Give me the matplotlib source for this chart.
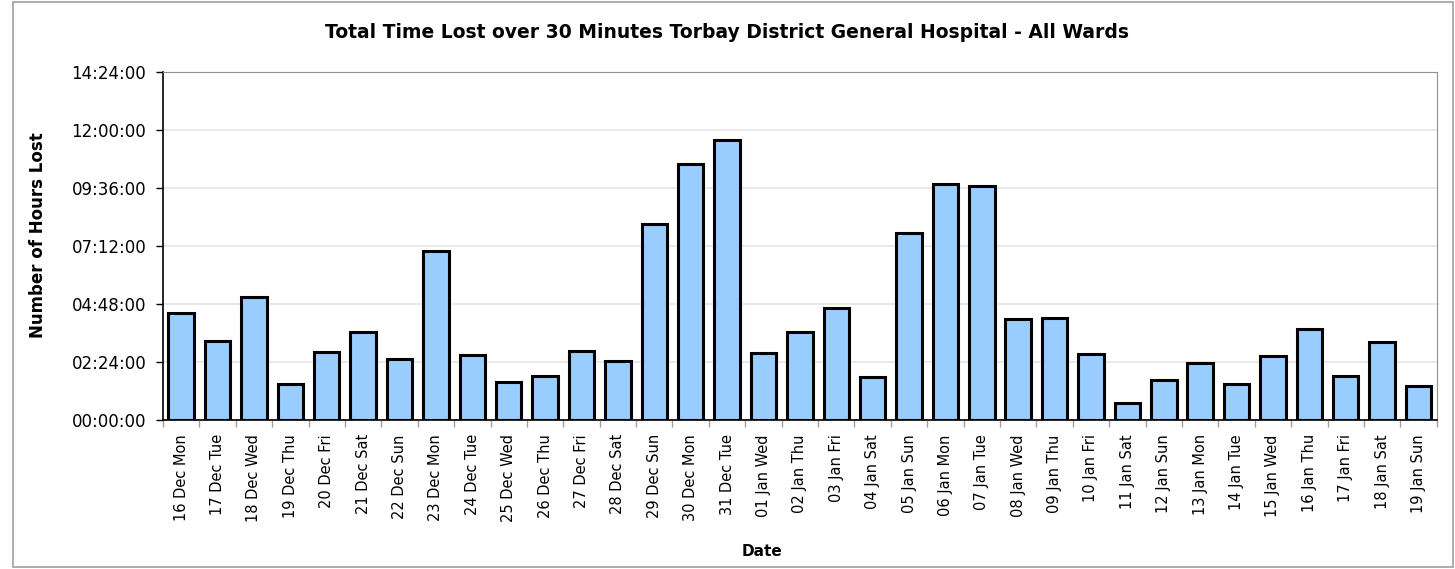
import matplotlib.pyplot as plt
from matplotlib.ticker import FuncFormatter, MultipleLocator
from matplotlib.patches import Rectangle
import numpy as np

dates = ['16 Dec Mon', '17 Dec Tue', '18 Dec Wed', '19 Dec Thu', '20 Dec Fri',
         '21 Dec Sat', '22 Dec Sun', '23 Dec Mon', '24 Dec Tue', '25 Dec Wed',
         '26 Dec Thu', '27 Dec Fri', '28 Dec Sat', '29 Dec Sun', '30 Dec Mon',
         '31 Dec Tue', '01 Jan Wed', '02 Jan Thu', '03 Jan Fri', '04 Jan Sat',
         '05 Jan Sun', '06 Jan Mon', '07 Jan Tue', '08 Jan Wed', '09 Jan Thu',
         '10 Jan Fri', '11 Jan Sat', '12 Jan Sun', '13 Jan Mon', '14 Jan Tue',
         '15 Jan Wed', '16 Jan Thu', '17 Jan Fri', '18 Jan Sat', '19 Jan Sun']

# time lost, in minutes
minutes_lost = [265, 197, 305, 90, 169, 220, 151, 419, 163, 95,
                110, 172, 148, 486, 636, 694, 166, 220, 278, 107,
                463, 586, 581, 251, 253, 164, 43, 100, 143, 90,
                159, 227, 111, 193, 84]

title = 'Total Time Lost over 30 Minutes Torbay District General Hospital - All Wards'


def hhmmss(v, pos=None):
    m = int(round(v))
    return '%02d:%02d:00' % (m // 60, m % 60)


fig = plt.figure(figsize=(14.55, 5.69), dpi=100)
# outer chart frame
fig.patches.append(Rectangle((12.5 / 1455, 2 / 569), (1453 - 12.5) / 1455, (567 - 2) / 569,
                             transform=fig.transFigure, fill=False,
                             edgecolor='#a0a0a0', linewidth=1.2))

ax = fig.add_axes([163 / 1455, (569 - 420.3) / 569, (1436.7 - 163) / 1455, (420.3 - 71.7) / 569])

x = np.arange(len(dates))
ax.bar(x, minutes_lost, width=0.7, color='#99CCFF', edgecolor='black',
       linewidth=2.2, zorder=3)

ax.set_xlim(-0.5, len(dates) - 0.5)
ax.set_ylim(0, 864)
ax.yaxis.set_major_locator(MultipleLocator(144))
ax.yaxis.set_major_formatter(FuncFormatter(hhmmss))
ax.grid(axis='y', color='#e4e4e4', linewidth=1.2, zorder=0)

ax.set_xticks(x)
ax.set_xticklabels(dates, rotation=90, fontsize=10.5)
ax.set_xticks(np.arange(len(dates) + 1) - 0.5, minor=True)
ax.tick_params(axis='x', which='major', length=0, pad=10)
ax.tick_params(axis='x', which='minor', length=5, color='#a0a0a0', width=1)
ax.tick_params(axis='y', labelsize=12, length=5, width=1, pad=7)

for s in ['top', 'right']:
    ax.spines[s].set_color('#909090')
for s in ['left', 'bottom']:
    ax.spines[s].set_color('black')
    ax.spines[s].set_linewidth(1.2)

ax.set_ylabel('Number of Hours Lost', fontsize=12, fontweight='bold')
ax.yaxis.set_label_coords((47 - 163) / (1436.7 - 163), 0.53)
ax.set_xlabel('Date', fontsize=11, fontweight='bold')
ax.xaxis.set_label_coords((762 - 163) / (1436.7 - 163), -0.355)

fig.text(727 / 1455, 1 - 33 / 569, title, ha='center', va='center',
         fontsize=13.5, fontweight='bold')

fig.savefig('out.png', dpi=100)
plt.close(fig)
